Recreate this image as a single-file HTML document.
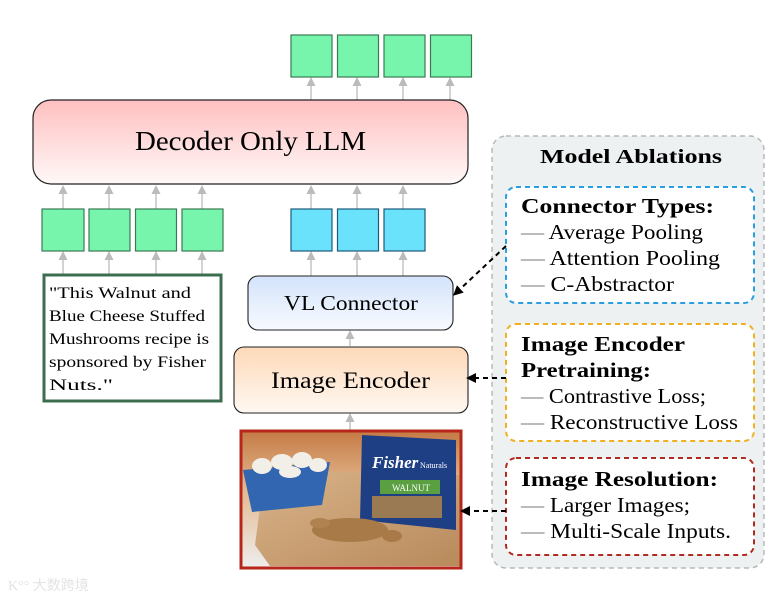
<!DOCTYPE html>
<html><head><meta charset="utf-8"><style>
html,body{margin:0;padding:0;background:#fff}
svg{display:block}
text{font-family:"Liberation Serif",serif}
</style></head><body>
<svg width="774" height="600" viewBox="0 0 774 600" xmlns="http://www.w3.org/2000/svg">
<defs>
<linearGradient id="gr" x1="0" y1="0" x2="0" y2="1"><stop offset="0" stop-color="#ffc0c0"/><stop offset="1" stop-color="#fff8f8"/></linearGradient>
<linearGradient id="gb" x1="0" y1="0" x2="0" y2="1"><stop offset="0" stop-color="#d3e3fb"/><stop offset="1" stop-color="#f8fbff"/></linearGradient>
<linearGradient id="go" x1="0" y1="0" x2="0" y2="1"><stop offset="0" stop-color="#fdd9b8"/><stop offset="1" stop-color="#fff8f2"/></linearGradient>
<linearGradient id="bg" x1="0" y1="0" x2="0" y2="1"><stop offset="0" stop-color="#c47a45"/><stop offset="0.4" stop-color="#e3b68b"/><stop offset="1" stop-color="#eee"/></linearGradient>
<linearGradient id="wood" x1="0" y1="0" x2="1" y2="1"><stop offset="0" stop-color="#d9b48a"/><stop offset="1" stop-color="#b88a5c"/></linearGradient>
<marker id="ga" markerWidth="8" markerHeight="8" refX="4" refY="4" orient="auto"><path d="M0,1 L6,4 L0,7 z" fill="#bbb"/></marker>
<marker id="ka" markerWidth="10" markerHeight="10" refX="6" refY="5" orient="auto" markerUnits="userSpaceOnUse"><path d="M0,0 L10,5 L0,10 z" fill="#000"/></marker>
</defs>

<g stroke="#c4c4c4" stroke-width="1.5" marker-end="url(#ga)">
<line x1="311" y1="100" x2="311" y2="80"/><line x1="357" y1="100" x2="357" y2="80"/><line x1="403" y1="100" x2="403" y2="80"/><line x1="450" y1="100" x2="450" y2="80"/>
<line x1="63" y1="209" x2="63" y2="188"/><line x1="109" y1="209" x2="109" y2="188"/><line x1="156" y1="209" x2="156" y2="188"/><line x1="202" y1="209" x2="202" y2="188"/>
<line x1="311" y1="209" x2="311" y2="188"/><line x1="357" y1="209" x2="357" y2="188"/><line x1="403" y1="209" x2="403" y2="188"/>
<line x1="63" y1="274" x2="63" y2="254"/><line x1="109" y1="274" x2="109" y2="254"/><line x1="156" y1="274" x2="156" y2="254"/><line x1="202" y1="274" x2="202" y2="254"/>
<line x1="311" y1="276" x2="311" y2="254"/><line x1="357" y1="276" x2="357" y2="254"/><line x1="403" y1="276" x2="403" y2="254"/>
<line x1="350" y1="346" x2="350" y2="333"/>
<line x1="350" y1="430" x2="350" y2="416"/>
</g>

<g fill="#78f5ad" stroke="#3b7a55" stroke-width="1.2">
<rect x="291" y="35" width="41" height="42"/><rect x="337.5" y="35" width="41" height="42"/><rect x="384" y="35" width="41" height="42"/><rect x="430.5" y="35" width="41" height="42"/>
<rect x="42" y="209" width="42" height="42"/><rect x="89" y="209" width="41" height="42"/><rect x="135.5" y="209" width="41" height="42"/><rect x="182" y="209" width="41" height="42"/>
</g>
<g fill="#6ae2fc" stroke="#1f5a7a" stroke-width="1.2">
<rect x="291" y="209" width="41" height="42"/><rect x="337.5" y="209" width="41" height="42"/><rect x="384" y="209" width="41" height="42"/>
</g>

<rect x="33" y="100" width="435" height="84" rx="18" fill="url(#gr)" stroke="#222" stroke-width="1.2"/>
<text x="135" y="150" font-size="27" textLength="231" lengthAdjust="spacingAndGlyphs">Decoder Only LLM</text>

<rect x="44" y="275" width="177" height="126" fill="#fff" stroke="#3b6e4f" stroke-width="3"/>
<g font-size="16" lengthAdjust="spacingAndGlyphs">
<text x="49" y="298" textLength="142" lengthAdjust="spacingAndGlyphs">"This Walnut and</text>
<text x="49" y="321" textLength="156" lengthAdjust="spacingAndGlyphs">Blue Cheese Stuffed</text>
<text x="49" y="344" textLength="160" lengthAdjust="spacingAndGlyphs">Mushrooms recipe is</text>
<text x="49" y="367" textLength="157" lengthAdjust="spacingAndGlyphs">sponsored by Fisher</text>
<text x="49" y="390" textLength="64" lengthAdjust="spacingAndGlyphs">Nuts."</text>
</g>

<rect x="248" y="276" width="205" height="54" rx="10" fill="url(#gb)" stroke="#222" stroke-width="1.1"/>
<text x="284" y="310" font-size="21" textLength="134" lengthAdjust="spacingAndGlyphs">VL Connector</text>
<rect x="234" y="347" width="234" height="66" rx="10" fill="url(#go)" stroke="#222" stroke-width="1.1"/>
<text x="271" y="388" font-size="23" textLength="159" lengthAdjust="spacingAndGlyphs">Image Encoder</text>

<g>
<rect x="241" y="431" width="220" height="137" fill="url(#bg)"/>
<polygon points="255,545 265,470 461,475 461,566 270,566" fill="url(#wood)"/>
<polygon points="243,470 330,462 322,505 252,512" fill="#3266b0"/>
<g fill="#f2efe8"><ellipse cx="262" cy="466" rx="10" ry="8"/><ellipse cx="282" cy="462" rx="11" ry="8"/><ellipse cx="302" cy="460" rx="10" ry="8"/><ellipse cx="318" cy="465" rx="9" ry="7"/><ellipse cx="290" cy="472" rx="11" ry="6"/></g>
<polygon points="362,435 456,440 456,530 360,520" fill="#1f3f85"/>
<rect x="380" y="480" width="60" height="14" fill="#5aa040"/>
<text x="372" y="468" font-size="17" font-style="italic" fill="#fff" font-weight="bold">Fisher</text>
<text x="420" y="468" font-size="8" fill="#fff">Naturals</text>
<text x="392" y="491" font-size="9" fill="#fff">WALNUT</text>
<rect x="372" y="496" width="70" height="22" fill="#9a7a52"/>
<ellipse cx="350" cy="530" rx="38" ry="12" fill="#a87a48"/>
<ellipse cx="320" cy="523" rx="10" ry="5" fill="#b08250"/>
<ellipse cx="392" cy="536" rx="10" ry="6" fill="#a87a48"/>
</g>
<rect x="241" y="431" width="220" height="137" fill="none" stroke="#b8261a" stroke-width="3"/>

<rect x="492" y="136" width="272" height="432" rx="14" fill="#eef1f2" stroke="#b8b8b8" stroke-width="1.5" stroke-dasharray="5,4"/>
<text x="540" y="163" font-size="20" font-weight="bold" textLength="182" lengthAdjust="spacingAndGlyphs">Model Ablations</text>

<rect x="506" y="187" width="248" height="116" rx="10" fill="#fff" stroke="#2a9fe0" stroke-width="2" stroke-dasharray="5,4"/>
<g font-size="21">
<text x="521" y="213" font-weight="bold" textLength="193" lengthAdjust="spacingAndGlyphs">Connector Types:</text>
<text x="521" y="239" textLength="182" lengthAdjust="spacingAndGlyphs"><tspan fill="#777">—</tspan> Average Pooling</text>
<text x="521" y="265" textLength="199" lengthAdjust="spacingAndGlyphs"><tspan fill="#777">—</tspan> Attention Pooling</text>
<text x="521" y="291" textLength="153" lengthAdjust="spacingAndGlyphs"><tspan fill="#777">—</tspan> C-Abstractor</text>
</g>

<rect x="506" y="324" width="248" height="117" rx="10" fill="#fff" stroke="#f0b020" stroke-width="2" stroke-dasharray="5,4"/>
<g font-size="21">
<text x="521" y="351" font-weight="bold" textLength="164" lengthAdjust="spacingAndGlyphs">Image Encoder</text>
<text x="521" y="377" font-weight="bold" textLength="130" lengthAdjust="spacingAndGlyphs">Pretraining:</text>
<text x="521" y="403" textLength="185" lengthAdjust="spacingAndGlyphs"><tspan fill="#777">—</tspan> Contrastive Loss;</text>
<text x="521" y="429" textLength="217" lengthAdjust="spacingAndGlyphs"><tspan fill="#777">—</tspan> Reconstructive Loss</text>
</g>

<rect x="506" y="458" width="248" height="97" rx="10" fill="#fff" stroke="#b02a20" stroke-width="2" stroke-dasharray="5,4"/>
<g font-size="21">
<text x="521" y="486" font-weight="bold" textLength="197" lengthAdjust="spacingAndGlyphs">Image Resolution:</text>
<text x="521" y="512" textLength="169" lengthAdjust="spacingAndGlyphs"><tspan fill="#777">—</tspan> Larger Images;</text>
<text x="521" y="538" textLength="210" lengthAdjust="spacingAndGlyphs"><tspan fill="#777">—</tspan> Multi-Scale Inputs.</text>
</g>

<g stroke="#000" stroke-width="2" stroke-dasharray="5,4" fill="none" marker-end="url(#ka)">
<line x1="506" y1="246" x2="456" y2="293"/>
<line x1="506" y1="378" x2="470" y2="378"/>
<line x1="506" y1="511" x2="464" y2="511"/>
</g>

<text x="8" y="590" font-size="14" fill="#e4e4e4" font-family="'Noto Sans CJK SC',sans-serif">K°° 大数跨境</text>
</svg>
</body></html>
